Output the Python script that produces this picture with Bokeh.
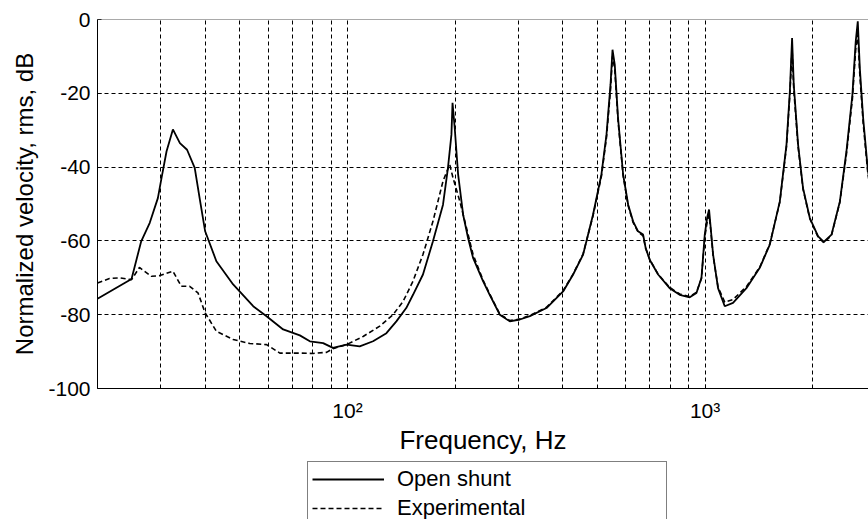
from bokeh.plotting import figure
from bokeh.layouts import column
from bokeh.models import Range1d, FixedTicker, Legend, LegendItem, Span
from bokeh.embed import file_html
from bokeh.resources import INLINE

FONT = "Liberation Sans"

# Frequency response of the beam: open shunt model vs. measurement
freq_open = [20, 24.9, 26.5, 28.0, 29.5, 30.2, 31.2, 32.5, 34.0, 35.6, 37.4, 38.6, 40.0,
             43.0, 47.9, 54.5, 59.4, 66.1, 73.6, 78.5, 85.5, 91.1, 99.4, 108.2, 117.9,
             128.5, 137, 146, 152.5, 162.6, 173.4, 185, 191, 195.3, 196.7, 199.5, 203.9,
             210.6, 217.4, 224.5, 239.4, 249.9, 266.6, 284.4, 303.4, 323.6, 360.2, 400.9,
             427.6, 456, 486, 513, 530, 544, 551, 559, 571, 590, 609.5, 629, 649.5, 671,
             682, 700, 739, 796, 849, 906, 946, 977, 998, 1013, 1026, 1037, 1053, 1087,
             1135, 1197, 1305, 1422, 1517, 1618, 1689, 1726, 1751, 1770, 1820, 1879, 1963,
             2071, 2148, 2257, 2382, 2485, 2582, 2638, 2673, 2708, 2767, 2854, 2900]
db_open = [-75.7, -70.3, -60.1, -55.1, -48.4, -43.0, -35.7, -29.8, -33.5, -35.3, -40.2, -48.4, -57.4,
           -65.5, -71.8, -77.7, -80.4, -84.0, -85.6, -87.2, -87.7, -89.0, -88.1, -88.6, -87.2,
           -85.0, -81.8, -78.2, -74.6, -69.1, -60.1, -50.2, -40.2, -31.2, -22.6, -29.4, -42.0,
           -52.9, -59.2, -64.6, -70.9, -74.6, -80.0, -81.8, -81.3, -80.4, -78.2, -73.7,
           -69.1, -63.7, -52.9, -42.0, -31.2, -17.6, -8.2, -12.2, -26.7, -42.0, -50.2, -54.7, -57.4, -58.3,
           -61.9, -65.1, -69.1, -72.8, -74.6, -75.3, -74.1, -70.0, -58.3, -53.8, -51.5, -56.5, -63.7, -72.8,
           -77.7, -76.8, -72.8, -67.3, -61.0, -49.3, -33.9, -19.5, -5.0, -17.6, -33.9, -45.7, -53.8,
           -58.8, -60.3, -58.3, -49.3, -35.7, -20.4, -5.9, -0.5, -13.1, -26.7, -41.1, -45.0]

freq_exp = [20, 21.6, 23.1, 24.9, 26.2, 28.3, 29.9, 32.5, 34.3, 36.2, 38.2, 40.0, 43.0, 47.9,
            53.3, 59.4, 64.7, 73.6, 80.1, 87.4, 91.1, 99.4, 110.6, 123.1, 134.1, 143.1, 152.5,
            162.6, 173.4, 185, 193.2, 197.4, 206.2, 215.2, 224.5, 239.4, 249.9, 266.6, 284.4,
            303.4, 323.6, 360.2, 400.9, 427.6, 456, 486, 513, 530, 544, 551, 559, 571, 590,
            609.5, 629, 649.5, 671, 682, 700, 739, 796, 849, 906, 946, 977, 998, 1013, 1026,
            1037, 1053, 1087, 1135, 1197, 1305, 1422, 1517, 1618, 1689, 1726, 1751, 1770, 1820,
            1879, 1963, 2071, 2148, 2257, 2382, 2485, 2582, 2638, 2673, 2708, 2767, 2854, 2900]
db_exp = [-71.4, -70.2, -70.0, -70.5, -67.2, -69.6, -69.4, -68.2, -72.3, -72.3, -74.1, -79.5, -84.5, -86.7,
          -87.8, -88.1, -90.4, -90.4, -90.5, -90.2, -89.2, -88.1, -85.9, -83.1, -80.0, -76.4, -70.9,
          -63.7, -54.7, -43.8, -39.3, -43.0, -49.3, -56.5, -63.7, -70.6, -74.4, -79.8, -81.6,
          -81.2, -80.2, -78.0, -73.5, -69.0, -63.5, -53.2, -42.5, -32.0, -19.0, -10.0, -13.5, -27.5, -42.3,
          -50.5, -55.0, -57.6, -58.6, -62.0, -65.0, -69.0, -72.6, -74.4, -75.1, -73.9, -70.2, -59.0, -55.0, -53.0,
          -57.0, -64.0, -72.5, -76.6, -75.9, -72.4, -67.1, -60.8, -49.5, -34.5, -20.5, -8.0, -19.0, -34.5,
          -46.0, -54.0, -59.0, -60.5, -58.5, -49.5, -36.5, -21.5, -8.0, -4.0, -15.0, -28.0, -42.0, -46.0]

series_names = ["Open shunt", "Experimental"]

grid_freqs = [20, 30, 40, 50, 60, 70, 80, 90, 100, 200, 300, 400, 500, 600, 700, 800, 900,
              1000, 2000]
labeled_freqs = [100, 1000]
freq_labels = {100: "10²", 1000: "10³"}
db_ticks = [-100, -80, -60, -40, -20, 0]
db_labels = {-100: "-100", -80: "-80", -60: "-60", -40: "-40", -20: "-20", 0: "0"}

SOLID = dict(line_color="black", line_width=1.8)
DASHED = dict(line_color="black", line_width=1.6, line_dash="5 3")

p = figure(width=868, height=457, x_axis_type="log",
           x_range=Range1d(20, 2864), y_range=Range1d(-100, 0),
           output_backend="svg", toolbar_location=None,
           min_border_left=97, min_border_right=0, min_border_top=19, min_border_bottom=69)
p.outline_line_color = None
p.background_fill_color = "white"
p.border_fill_color = "white"

p.line(freq_open, db_open, **SOLID)
p.line(freq_exp, db_exp, **DASHED)

# dotted grid at every decade subdivision
p.xgrid.ticker = FixedTicker(ticks=grid_freqs)
p.ygrid.ticker = FixedTicker(ticks=[-80, -60, -40, -20])
for g in (p.xgrid, p.ygrid):
    g.grid_line_color = "black"
    g.grid_line_dash = "4 3"
    g.grid_line_width = 1

# top edge of the frame
p.add_layout(Span(location=0, dimension="width", line_color="#555555", line_width=1))

xa = p.xaxis[0]
xa.ticker = FixedTicker(ticks=labeled_freqs, minor_ticks=[f for f in grid_freqs if f not in labeled_freqs])
xa.major_label_overrides = freq_labels
xa.axis_label = "Frequency, Hz"

ya = p.yaxis[0]
ya.ticker = FixedTicker(ticks=db_ticks)
ya.major_label_overrides = db_labels
ya.axis_label = "Normalized velocity, rms, dB"

for ax in (xa, ya):
    ax.axis_line_color = "black"
    ax.axis_line_width = 1
    ax.major_tick_in = 4
    ax.major_tick_out = 0
    ax.minor_tick_in = 3
    ax.minor_tick_out = 0
    ax.major_tick_line_color = "black"
    ax.minor_tick_line_color = "black"
    ax.major_label_text_font = FONT
    ax.major_label_text_font_size = "21px"
    ax.major_label_text_color = "black"
    ax.axis_label_text_font = FONT
    ax.axis_label_text_font_style = "normal"
    ax.axis_label_text_color = "black"

xa.major_label_standoff = 10
xa.axis_label_text_font_size = "26px"
xa.axis_label_standoff = 0
ya.major_label_standoff = 7
ya.axis_label_text_font_size = "24px"
ya.axis_label_standoff = 7

# legend strip under the axis label; the box runs past the bottom edge
lg = figure(width=868, height=62, x_range=Range1d(0, 1), y_range=Range1d(0, 1),
            output_backend="svg", toolbar_location=None,
            x_axis_location=None, y_axis_location=None,
            min_border=0, min_border_left=0, min_border_right=0, min_border_top=0, min_border_bottom=0)
lg.outline_line_color = None
lg.xgrid.visible = False
lg.ygrid.visible = False
lg.background_fill_color = "white"
lg.border_fill_color = "white"
# key renderers sit outside the strip's visible range; only their legend glyphs show
k_open = lg.line([-2, -1], [-2, -1], **SOLID)
k_exp = lg.line([-2, -1], [-2, -1], **DASHED)

legend = Legend(items=[LegendItem(label=series_names[0], renderers=[k_open]),
                       LegendItem(label=series_names[1], renderers=[k_exp])],
                location=(210, -7))
legend.label_text_font = FONT
legend.label_text_font_size = "22px"
legend.label_text_color = "black"
legend.glyph_width = 72
legend.glyph_height = 26
legend.label_height = 26
legend.label_width = 265
legend.label_standoff = 13
legend.padding = 4
legend.spacing = 3
legend.margin = 0
legend.border_line_color = "black"
legend.border_line_width = 1
legend.background_fill_color = "white"
legend.background_fill_alpha = 1
lg.add_layout(legend)

page = column(p, lg, spacing=0)
open("out.html", "w").write(file_html(page, INLINE))
